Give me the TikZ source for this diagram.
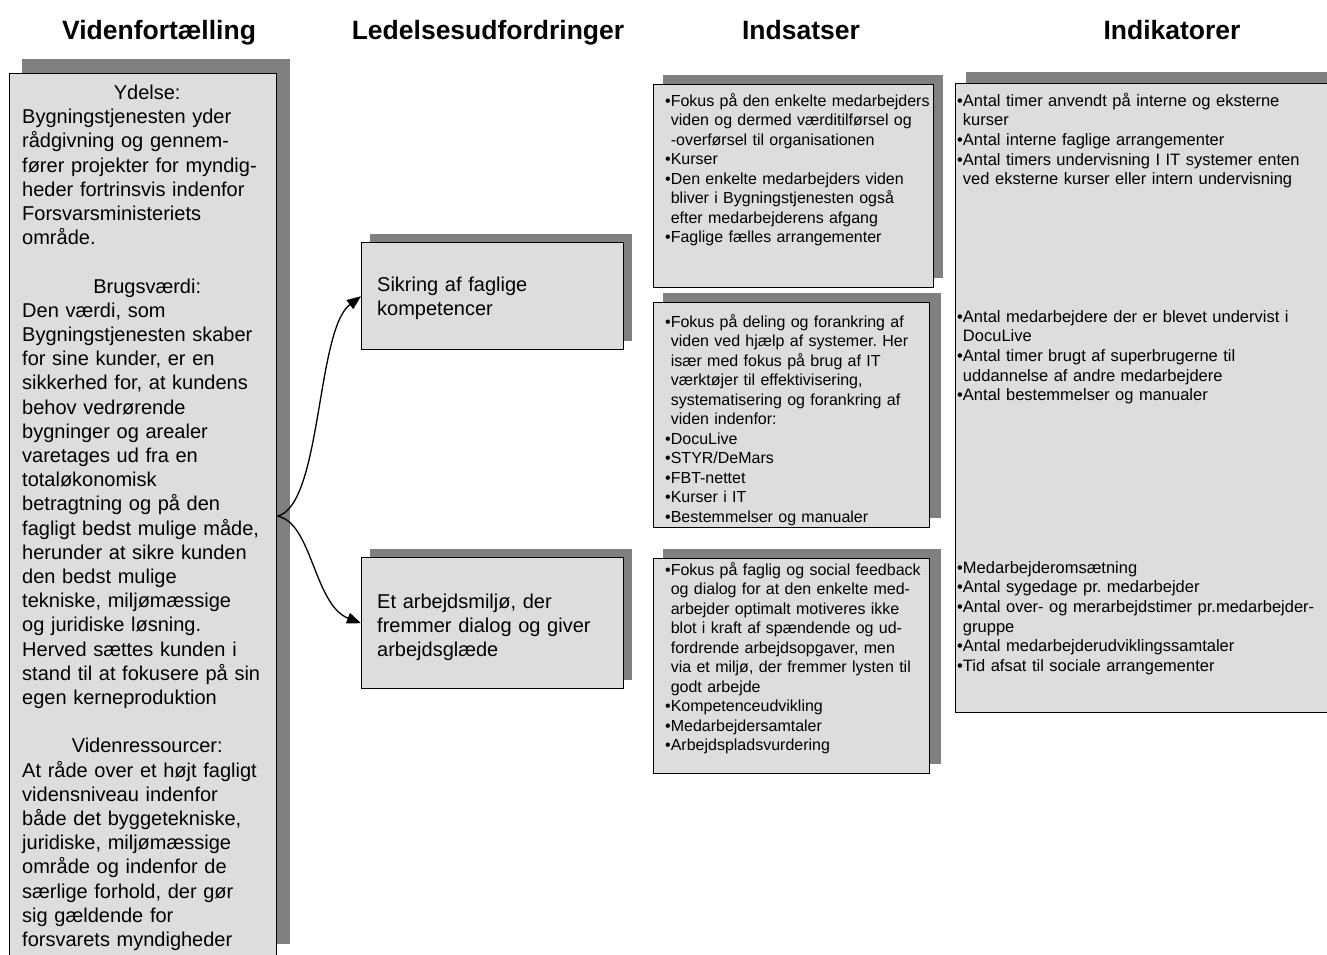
\documentclass[tikz,border=0pt]{standalone}
\usepackage{fontspec}
\setmainfont{Liberation Sans}
\usetikzlibrary{arrows.meta}
\definecolor{boxfill}{RGB}{221,221,221}
\definecolor{shadowgray}{RGB}{128,128,128}
\frenchspacing
\begin{document}
\begin{tikzpicture}[x=1pt,y=-1pt,
  boxframe/.style={draw=black, line width=1.4pt, fill=boxfill, inner sep=0pt, anchor=north west},
  shadowbox/.style={fill=shadowgray, draw=none},
  coltitle/.style={font=\fontsize{26.5}{30}\selectfont\bfseries, anchor=base, inner sep=0pt},
  bigtext/.style={font=\fontsize{20}{24.2}\selectfont, anchor=base west, inner sep=0pt, align=left, text width=250pt},
  smalltext/.style={font=\fontsize{16}{19.5}\selectfont, anchor=base west, inner sep=0pt, align=left, text width=330pt},
  indtext/.style={font=\fontsize{16.5}{19.7}\selectfont, anchor=base west, inner sep=0pt, align=left, text width=420pt},
  conn/.style={line width=1.3pt, -{Triangle[length=14pt,width=11pt]}}
]
\useasboundingbox (0,0) rectangle (1327,954);
\clip (0,0) rectangle (1327,954);

% column titles
\node[coltitle] (t1) at (159,39) {Videnfortælling};
\node[coltitle] (t2) at (488,39) {Ledelsesudfordringer};
\node[coltitle] (t3) at (801,39) {Indsatser};
\node[coltitle] (t4) at (1172,39) {Indikatorer};

% left box
\fill[shadowbox] (22,59) rectangle (290,944);
\node[boxframe, minimum width=267pt, minimum height=885pt] (vf) at (9,73) {};
\node[bigtext] (vftext) at (22,99.5) {%
\hfill Ydelse:\hfill\mbox{}\\
Bygningstjenesten yder\\
rådgivning og gennem-\\
fører projekter for myndig-\\
heder fortrinsvis indenfor\\
Forsvarsministeriets\\
område.\\[24.2pt]
\hfill Brugsværdi:\hfill\mbox{}\\
Den værdi, som\\
Bygningstjenesten skaber\\
for sine kunder, er en\\
sikkerhed for, at kundens\\
behov vedrørende\\
bygninger og arealer\\
varetages ud fra en\\
totaløkonomisk\\
betragtning og på den\\
fagligt bedst mulige måde,\\
herunder at sikre kunden\\
den bedst mulige\\
tekniske, miljømæssige\\
og juridiske løsning.\\
Herved sættes kunden i\\
stand til at fokusere på sin\\
egen kerneproduktion\\[24.2pt]
\hfill Videnressourcer:\hfill\mbox{}\\
At råde over et højt fagligt\\
vidensniveau indenfor\\
både det byggetekniske,\\
juridiske, miljømæssige\\
område og indenfor de\\
særlige forhold, der gør\\
sig gældende for\\
forsvarets myndigheder};

% middle boxes
\fill[shadowbox] (370,234) rectangle (632,341);
\node[boxframe, minimum width=262pt, minimum height=107pt] (m1) at (361,242) {};
\node[bigtext] (m1text) at (377,291.5) {Sikring af faglige\\kompetencer};

\fill[shadowbox] (370,549) rectangle (632,680);
\node[boxframe, minimum width=262pt, minimum height=131pt] (m2) at (361,557) {};
\node[bigtext] (m2text) at (377,608) {Et arbejdsmiljø, der\\fremmer dialog og giver\\arbejdsglæde};

% connectors
\draw[conn] (vf.east) .. controls (322,505) and (316,330) .. (m1.west);
\draw[conn] (vf.east) .. controls (312,522) and (314,605) .. (m2.west);

% indsatser boxes
\fill[shadowbox] (663,75) rectangle (943,278);
\node[boxframe, minimum width=280pt, minimum height=203pt] (i1) at (653,84) {};
\node[smalltext] (i1text) at (665,106) {%
•Fokus på den enkelte medarbejders\\
\hphantom{•}viden og dermed værditilførsel og\\
\hphantom{•}-overførsel til organisationen\\
•Kurser\\
•Den enkelte medarbejders viden\\
\hphantom{•}bliver i Bygningstjenesten også\\
\hphantom{•}efter medarbejderens afgang\\
•Faglige fælles arrangementer};

\fill[shadowbox] (663,293) rectangle (941,518);
\node[boxframe, minimum width=276pt, minimum height=225pt] (i2) at (653,302) {};
\node[smalltext] (i2text) at (665,327) {%
•Fokus på deling og forankring af\\
\hphantom{•}viden ved hjælp af systemer. Her\\
\hphantom{•}især med fokus på brug af IT\\
\hphantom{•}værktøjer til effektivisering,\\
\hphantom{•}systematisering og forankring af\\
\hphantom{•}viden indenfor:\\
•DocuLive\\
•STYR/DeMars\\
•FBT-nettet\\
•Kurser i IT\\
•Bestemmelser og manualer};

\fill[shadowbox] (663,549) rectangle (941,764);
\node[boxframe, minimum width=276pt, minimum height=215pt] (i3) at (653,558) {};
\node[smalltext] (i3text) at (665,575) {%
•Fokus på faglig og social feedback\\
\hphantom{•}og dialog for at den enkelte med-\\
\hphantom{•}arbejder optimalt motiveres ikke\\
\hphantom{•}blot i kraft af spændende og ud-\\
\hphantom{•}fordrende arbejdsopgaver, men\\
\hphantom{•}via et miljø, der fremmer lysten til\\
\hphantom{•}godt arbejde\\
•Kompetenceudvikling\\
•Medarbejdersamtaler\\
•Arbejdspladsvurdering};

% indikatorer box
\fill[shadowbox] (966,72) rectangle (1360,701);
\node[boxframe, minimum width=400pt, minimum height=629pt] (ind) at (955,83) {};
\node[indtext] (ind1) at (957,106) {%
•Antal timer anvendt på interne og eksterne\\
\hphantom{•}kurser\\
•Antal interne faglige arrangementer\\
•Antal timers undervisning I IT systemer enten\\
\hphantom{•}ved eksterne kurser eller intern undervisning};
\node[indtext] (ind2) at (957,322) {%
•Antal medarbejdere der er blevet undervist i\\
\hphantom{•}DocuLive\\
•Antal timer brugt af superbrugerne til\\
\hphantom{•}uddannelse af andre medarbejdere\\
•Antal bestemmelser og manualer};
\node[indtext] (ind3) at (957,573) {%
•Medarbejderomsætning\\
•Antal sygedage pr. medarbejder\\
•Antal over- og merarbejdstimer pr.medarbejder-\\
\hphantom{•}gruppe\\
•Antal medarbejderudviklingssamtaler\\
•Tid afsat til sociale arrangementer};
\end{tikzpicture}
\end{document}
